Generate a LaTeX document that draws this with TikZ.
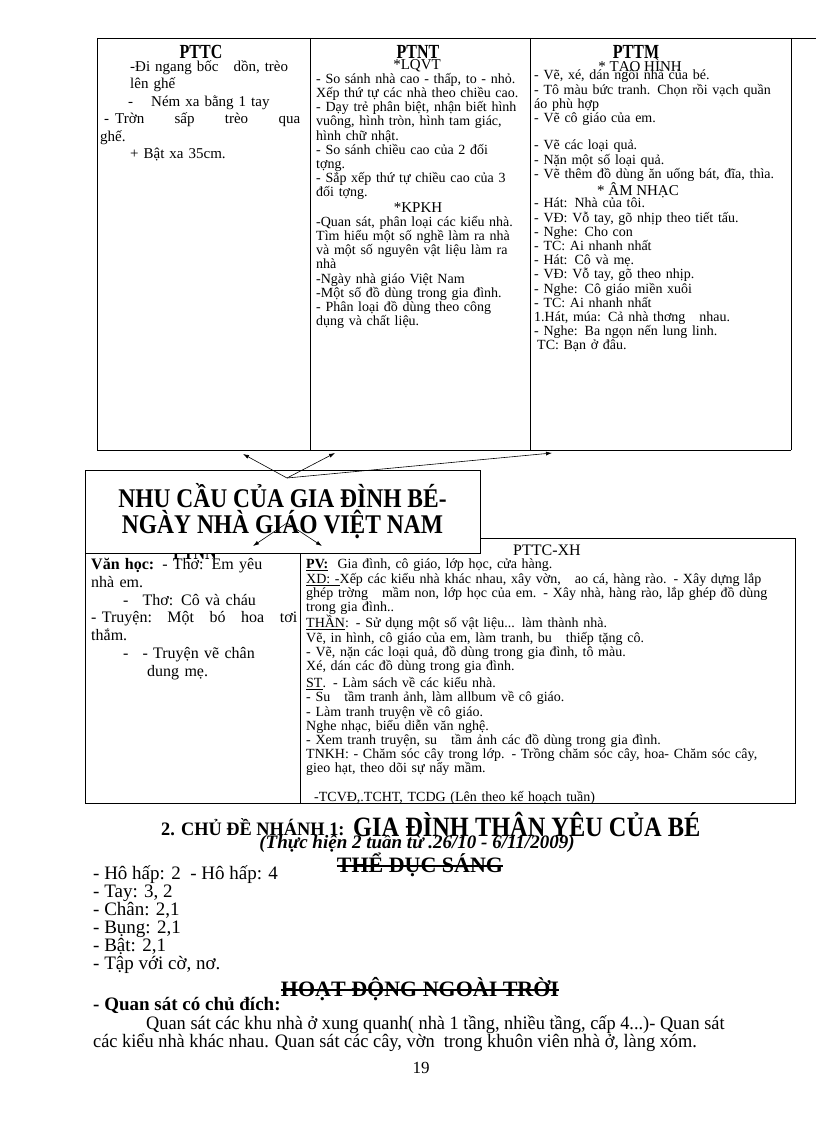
\documentclass[tikz,border=0pt]{standalone}
\usepackage{fontspec}
\setmainfont{Liberation Serif}
\newfontfamily\cond[FakeStretch=0.87]{Liberation Serif}
\newfontfamily\condh[FakeStretch=0.8]{Liberation Serif}
\newfontfamily\condp[FakeStretch=0.965]{Liberation Serif}
\usetikzlibrary{arrows.meta}
\begin{document}
\begin{tikzpicture}[x=1pt,y=-1pt,
  cell/.style={anchor=north west,inner sep=0pt,align=left,font=\fontsize{14}{14.2}\selectfont},
  head/.style={inner sep=0pt,font=\condh\bfseries\fontsize{20}{20}\selectfont},
  sub/.style={inner sep=0pt,font=\fontsize{15}{15}\selectfont},
  arr/.style={-{Latex[length=6pt,width=4pt]},line width=0.6pt},
  frame/.style={line width=0.6pt}]
\useasboundingbox (0,0) rectangle (816,1123);
% top table
\draw[frame] (97,38) -- (816,38);
\draw[frame] (97,38) -- (97,450) -- (791,450);
\draw[frame] (310,38) -- (310,450);
\draw[frame] (530,38) -- (530,450);
\draw[frame] (791,38) -- (791,450);
\node[head] (h1) at (201,52) {PTTC};
\node[cell,font=\fontsize{15}{17.5}\selectfont,text width=200] (c1) at (100,60) {\hspace*{30pt}-Đi ngang bốc\quad dồn, trèo\\\hspace*{30pt}lên ghế\\\hspace*{28pt}-\hspace{18pt}Ném xa bằng 1 tay\\\hspace*{4pt}-\hspace{6pt}Trờn\hfill sấp\hfill trèo\hfill qua\\ghế.\\\hspace*{30pt}+ Bật xa 35cm.};
\node[head] (h2) at (418,52) {PTNT};
\node[sub] (s2) at (417,66) {*LQVT};
\node[cell,text width=215] (c2) at (316,73) {- So sánh nhà cao - thấp, to - nhỏ.\\Xếp thứ tự các nhà theo chiều cao.\\- Dạy trẻ phân biệt, nhận biết hình\\vuông, hình tròn, hình tam giác,\\hình chữ nhật.\\- So sánh chiều cao của 2 đối\\tợng.\\- Sắp xếp thứ tự chiều cao của 3\\đối tợng.};
\node[sub] (s3) at (418,208) {*KPKH};
\node[cell,text width=215] (c3) at (316,216) {-Quan sát, phân loại các kiểu nhà.\\Tìm hiểu một số nghề làm ra nhà\\và một số nguyên vật liệu làm ra\\nhà\\-Ngày nhà giáo Việt Nam\\-Một số đồ dùng trong gia đình.\\- Phân loại đồ dùng theo công\\dụng và chất liệu.};
\node[head] (h3) at (636,52) {PTTM};
\node[sub] (s4) at (640,66) {* TẠO HÌNH};
\node[cell,text width=258] (c4) at (534,70) {- Vẽ, xé, dán ngôi nhà của bé.\\- Tô màu bức tranh. Chọn rồi vạch quần\\áo phù hợp\\- Vẽ cô giáo của em.};
\node[cell,text width=258] (c4b) at (534,140) {- Vẽ các loại quả.\\- Nặn một số loại quả.\\- Vẽ thêm đồ dùng ăn uống bát, đĩa, thìa.};
\node[sub] (s5) at (638,190) {* ÂM NHẠC};
\node[cell,text width=258] (c5) at (534,198) {- Hát: Nhà của tôi.\\- VĐ: Vỗ tay, gõ nhịp theo tiết tấu.\\- Nghe: Cho con\\- TC: Ai nhanh nhất\\- Hát: Cô và mẹ.\\- VĐ: Vỗ tay, gõ theo nhịp.\\- Nghe: Cô giáo miền xuôi\\- TC: Ai nhanh nhất\\1.Hát, múa: Cả nhà thơng\quad nhau.\\- Nghe: Ba ngọn nến lung linh.\\\hspace*{3pt}TC: Bạn ở đâu.};
% lower table
\draw[frame] (480,538) -- (795,538) -- (795,803) -- (85,803) -- (85,553);
\draw[frame] (300,538) -- (300,803);
\node[head] (h4) at (195,553) {PTNN};
\node[sub,font=\fontsize{16}{16}\selectfont] (h5) at (547,550) {PTTC-XH};
% centre box
\node[draw,frame,fill=white,minimum width=395,minimum height=83,inner sep=0pt,align=center,
  font=\cond\bfseries\fontsize{27}{26}\selectfont] (ctr) at (282.5,511.5) {NHU CẦU CỦA GIA ĐÌNH BÉ-\\NGÀY NHÀ GIÁO VIỆT NAM};
\coordinate (o1) at (287,478);
\coordinate (t1) at (243,454);
\coordinate (t2) at (335,453);
\coordinate (t3) at (552,453);
\coordinate (o2) at (287,523);
\coordinate (t4) at (253,546);
\coordinate (t5) at (322,546);
\draw[arr] (o1) -- (t1);
\draw[arr] (o1) -- (t2);
\draw[arr] (o1) -- (t3);
\draw[arr] (o2) -- (t4);
\draw[arr] (o2) -- (t5);
\node[cell,font=\fontsize{16}{17.8}\selectfont,text width=206] (c6) at (91,558) {\textbf{Văn học:} - Thơ: Em yêu\\nhà em.\\\hspace*{32pt}-\hspace{14pt}Thơ: Cô và cháu\\- Truyện:\hfill Một\hfill bó\hfill hoa\hfill tơi\\thắm.\\\hspace*{32pt}-\hspace{14pt}- Truyện vẽ chân\\\hspace*{56pt}dung mẹ.};
\node[cell,text width=485] (c7) at (306,559) {\underline{\textbf{PV:}}\ \ Gia đình, cô giáo, lớp học, cửa hàng.\\\underline{XD: -}Xếp các kiểu nhà khác nhau, xây vờn,\quad ao cá, hàng rào. - Xây dựng lắp\\ghép trờng\quad mầm non, lớp học của em. - Xây nhà, hàng rào, lắp ghép đồ dùng\\trong gia đình..\\\underline{THẦN}: - Sử dụng một số vật liệu... làm thành nhà.\\Vẽ, in hình, cô giáo của em, làm tranh, bu\quad thiếp tặng cô.\\- Vẽ, nặn các loại quả, đồ dùng trong gia đình, tô màu.\\Xé, dán các đồ dùng trong gia đình.\\[3pt]\underline{ST}. - Làm sách về các kiểu nhà.\\- Su\quad tầm tranh ảnh, làm allbum về cô giáo.\\- Làm tranh truyện về cô giáo.\\Nghe nhạc, biểu diễn văn nghệ.\\- Xem tranh truyện, su\quad tầm ảnh các đồ dùng trong gia đình.\\TNKH: - Chăm sóc cây trong lớp. - Trồng chăm sóc cây, hoa- Chăm sóc cây,\\gieo hạt, theo dõi sự nẩy mầm.\\[14pt]\hspace*{8pt}-TCVĐ,.TCHT, TCDG (Lên theo kế hoạch tuần)};
% bottom text
\node[anchor=base west,inner sep=0pt,font=\condp\bfseries\fontsize{19}{19}\selectfont] (t6) at (161,835) {2. CHỦ ĐỀ NHÁNH 1:};
\node[anchor=base west,inner sep=0pt,font=\cond\bfseries\fontsize{28}{28}\selectfont] (t7) at (353,836) {GIA ĐÌNH THÂN YÊU CỦA BÉ};
\node[anchor=base,inner sep=0pt,font=\bfseries\itshape\fontsize{19}{19}\selectfont] (t8) at (417,848) {(Thực hiện 2 tuần từ .26/10 - 6/11/2009)};
\node[anchor=base,inner sep=0pt,font=\bfseries\fontsize{22}{22}\selectfont] (t9) at (420,872) {THỂ DỤC SÁNG};
\draw[line width=1.2pt] (t9.west |- 0,866) -- (t9.east |- 0,866);
\node[anchor=north west,inner sep=0pt,align=left,font=\fontsize{19}{18}\selectfont] (t10) at (93,866) {- Hô hấp: 2 \ - Hô hấp: 4\\- Tay: 3, 2\\- Chân: 2,1\\- Bụng: 2,1\\- Bật: 2,1\\- Tập với cờ, nơ.};
\node[anchor=base,inner sep=0pt,font=\bfseries\fontsize{22}{22}\selectfont] (t11) at (420,996) {HOẠT ĐỘNG NGOÀI TRỜI};
\draw[line width=1.2pt] (t11.west |- 0,990) -- (t11.east |- 0,990);
\node[anchor=base west,inner sep=0pt,font=\bfseries\fontsize{19}{19}\selectfont] (t12) at (93,1010) {- Quan sát có chủ đích:};
\node[anchor=base west,inner sep=0pt,font=\condp\fontsize{19}{19}\selectfont] (t13) at (146,1029) {Quan sát các khu nhà ở xung quanh( nhà 1 tầng, nhiều tầng, cấp 4...)- Quan sát};
\node[anchor=base west,inner sep=0pt,font=\condp\fontsize{19}{19}\selectfont] (t14) at (93,1047) {các kiểu nhà khác nhau. Quan sát các cây, vờn \ trong khuôn viên nhà ở, làng xóm.};
\node[anchor=base,inner sep=0pt,font=\fontsize{17}{17}\selectfont] (t15) at (421,1073) {19};
\end{tikzpicture}
\end{document}
